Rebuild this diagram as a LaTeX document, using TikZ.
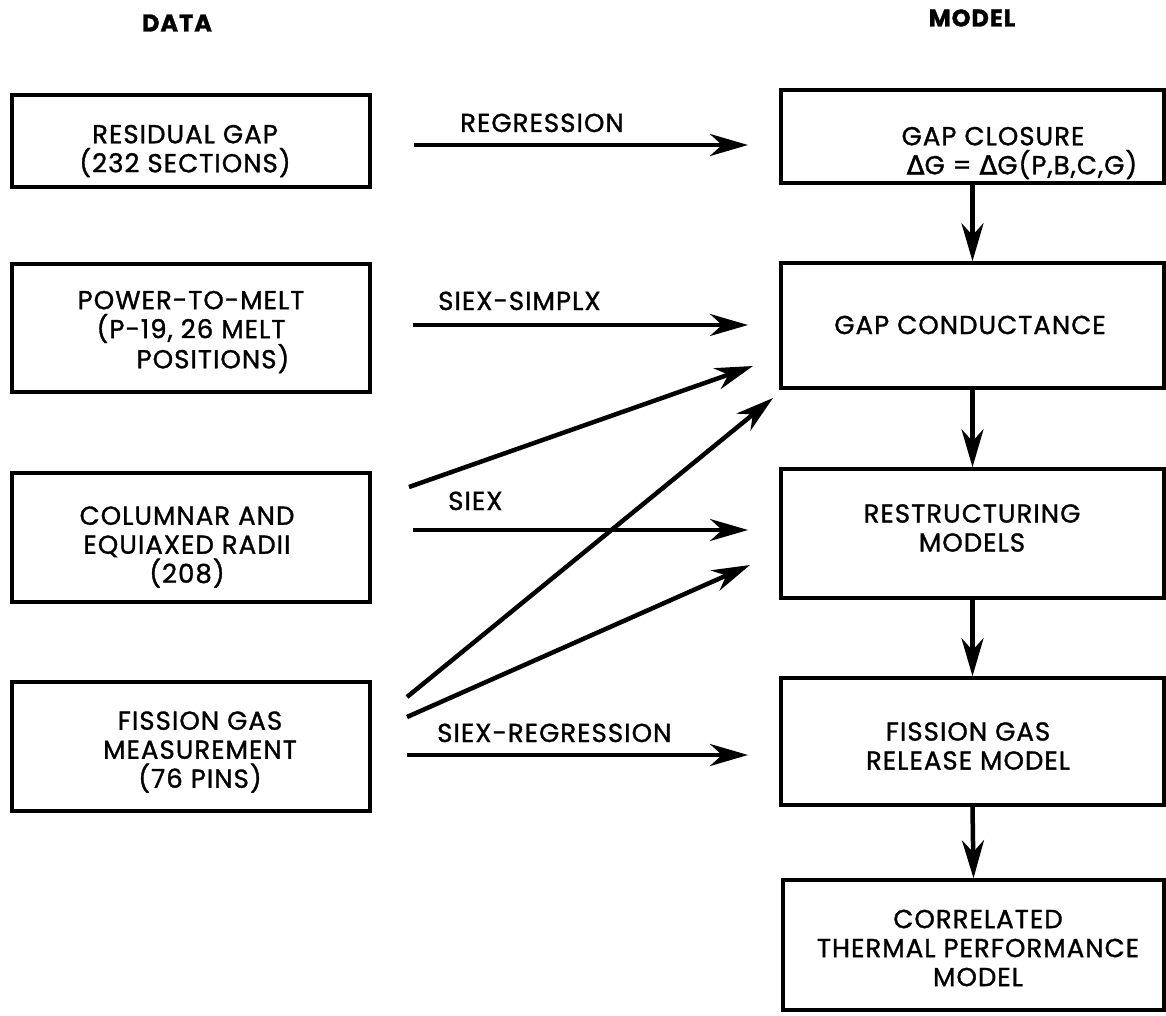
\documentclass[tikz,border=0pt]{standalone}
\usepackage{fontspec}
\setmainfont{Poppins}[LetterSpace=4, FakeBold=1.2]
\newfontfamily\grk{DejaVu Sans}[FakeBold=2]
\usetikzlibrary{arrows.meta}
\tikzset{
  box/.style={draw=black, line width=3.5pt, inner sep=0pt},
  txt/.style={align=center, inner sep=0pt, font=\fontsize{26}{29}\selectfont},
  lbl/.style={inner sep=0pt, anchor=base west, font=\fontsize{26}{29}\selectfont},
  hdr/.style={inner sep=0pt, font=\fontsize{24}{28}\selectfont\bfseries},
  arr/.style={line width=4.5pt, -{Stealth[length=38pt, width=22pt, inset=12pt]}},
  arrthin/.style={line width=3.5pt, -{Stealth[length=38pt, width=22pt, inset=12pt]}}
}
\begin{document}
\begin{tikzpicture}[x=1pt,y=-1pt]
\useasboundingbox[fill=white] (0,0) rectangle (1166,1016);

% headers
\node[hdr] (data) at (177,23) {DATA};
\node[hdr] (model) at (972,18) {MODEL};

% left boxes
\node[box, minimum width=358pt, minimum height=92pt] (b1) at (191,141) {};
\node[box, minimum width=358pt, minimum height=128pt] (b2) at (191,328) {};
\node[box, minimum width=358pt, minimum height=129pt] (b3) at (191,537.5) {};
\node[box, minimum width=358pt, minimum height=129pt] (b4) at (191,746.5) {};

\node[txt] (t1) at (185,151) {RESIDUAL GAP\\(232 SECTIONS)};
\node[txt] (t2) at (191,332) {POWER-TO-MELT\\(P-19, 26 MELT\\\hspace*{44pt}POSITIONS)};
\node[txt] (t3) at (187,547) {COLUMNAR AND\\EQUIAXED RADII\\(208)};
\node[txt] (t4) at (200,752) {FISSION GAS\\MEASUREMENT\\(76 PINS)};

% right boxes
\node[box, minimum width=383pt, minimum height=93pt] (m1) at (972.5,136.5) {};
\node[box, minimum width=383pt, minimum height=125pt] (m2) at (972.5,325.5) {};
\node[box, minimum width=383pt, minimum height=129pt] (m3) at (972.5,533.5) {};
\node[box, minimum width=383pt, minimum height=127pt] (m4) at (972.5,741.5) {};
\node[box, minimum width=381pt, minimum height=130pt] (m5) at (973.5,945) {};

\node[txt] (u1) at (1022,153) {GAP CLOSURE\hspace*{58pt}\\{\grk Δ}G = {\grk Δ}G(P,B,C,G)};
\node[txt] (u2) at (970,325) {GAP CONDUCTANCE};
\node[txt] (u3) at (972,528) {RESTRUCTURING\\MODELS};
\node[txt] (u4) at (968,746) {FISSION GAS\\RELEASE MODEL};
\node[txt] (u5) at (978,948) {CORRELATED\\THERMAL PERFORMANCE\\MODEL};

% vertical arrows
\draw[arr] (m1.south) -- (m2.north);
\draw[arr] (m2.south) -- (m3.north);
\draw[arr] (m3.south) -- (m4.north);
\draw[arr] (m4.south) -- (m5.north);

% arrow end points
\coordinate (r1s) at (414,145); \coordinate (r1e) at (748,145);
\coordinate (s1s) at (413,325); \coordinate (s1e) at (748,325);
\coordinate (d1s) at (409,487); \coordinate (d1e) at (753,366);
\coordinate (s2s) at (413,530); \coordinate (s2e) at (748,530);
\coordinate (d2s) at (407,697); \coordinate (d2e) at (773,398);
\coordinate (d3s) at (407,717); \coordinate (d3e) at (750,565);
\coordinate (s3s) at (407,755); \coordinate (s3e) at (748,755);

\draw[arr] (r1s) -- (r1e);
\draw[arrthin] (s1s) -- (s1e);
\draw[arr] (d1s) -- (d1e);
\draw[arrthin] (s2s) -- (s2e);
\draw[arr] (d2s) -- (d2e);
\draw[arr] (d3s) -- (d3e);
\draw[arr] (s3s) -- (s3e);

% arrow labels
\node[lbl] (l1) at (460,132) {REGRESSION};
\node[lbl] (l2) at (438,310) {SIEX-SIMPLX};
\node[lbl] (l3) at (448,510) {SIEX};
\node[lbl] (l4) at (437,742) {SIEX-REGRESSION};
\end{tikzpicture}
\end{document}
